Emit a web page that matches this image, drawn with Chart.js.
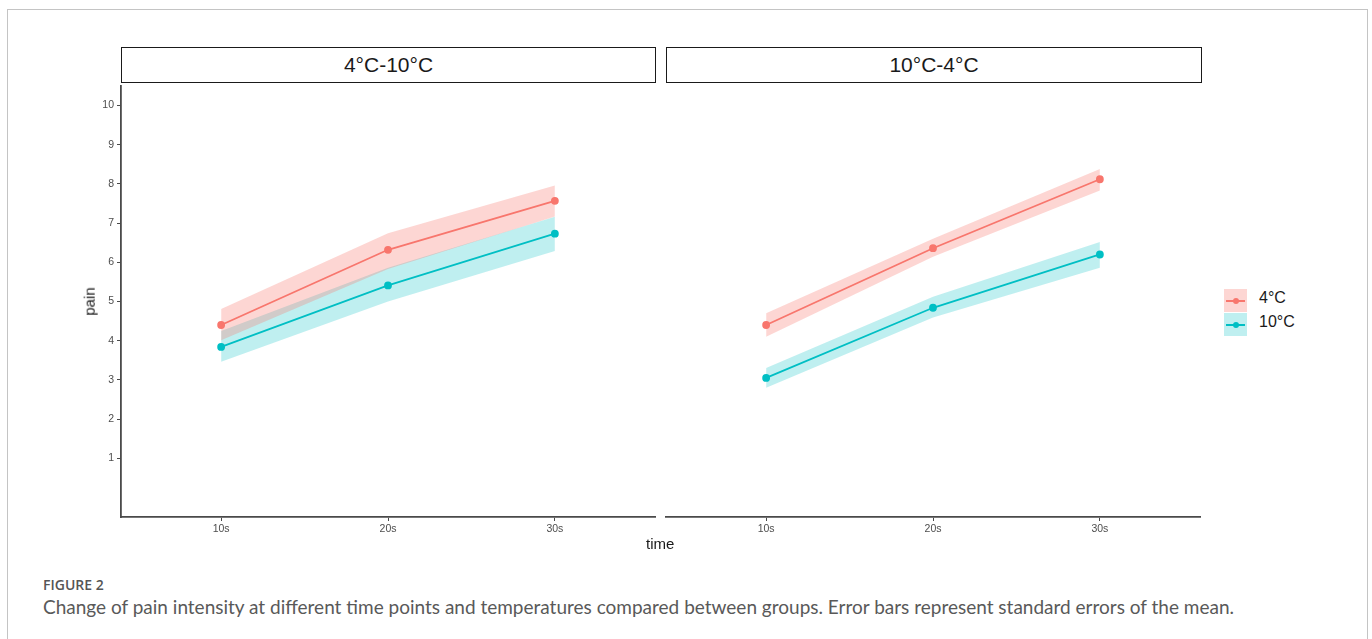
<!DOCTYPE html>
<html>
<head>
<meta charset="utf-8">
<script src="https://cdn.jsdelivr.net/npm/chart.js@4.4.1/dist/chart.umd.min.js"></script>
<style>
  body { margin: 0; background: #fff; width: 1372px; height: 639px; overflow: hidden; position: relative; font-family: "Liberation Sans", Arial, sans-serif; }
  .frame { position: absolute; left: 7px; top: 9px; width: 1361px; height: 700px; border: 1px solid #c4c4c4; box-sizing: border-box; }
  .strip { position: absolute; top: 47px; height: 36px; border: 1.6px solid #1a1a1a; box-sizing: border-box; text-align: center; line-height: 33px; font-size: 21px; color: #1a1a1a; }
  canvas { position: absolute; }
  .axt { position: absolute; font-size: 15px; color: #1a1a1a; }
  .leg { position: absolute; left: 1224px; width: 23px; height: 23px; }
  .leg .ln { position: absolute; left: 2px; right: 2px; top: 10.5px; height: 2px; }
  .leg .pt { position: absolute; left: 8.5px; top: 8.5px; width: 6px; height: 6px; border-radius: 50%; }
  .legtxt { position: absolute; left: 1259px; font-size: 16px; color: #1a1a1a; }
  .fig { position: absolute; left: 43px; top: 575px; font-family: "Open Sans", sans-serif; font-weight: 600; font-size: 14px; color: #555; }
  .cap { position: absolute; left: 43px; top: 595px; font-family: "Lato", sans-serif; font-size: 19px; color: #595959; white-space: nowrap; }
</style>
</head>
<body>
<div class="frame"></div>
<div class="strip" id="strip1" style="left:121px; width:535px;"></div>
<div class="strip" id="strip2" style="left:666px; width:536px;"></div>
<canvas id="chartLeft" width="670" height="484" style="left:0; top:76px;"></canvas>
<canvas id="chartRight" width="560" height="484" style="left:660px; top:76px;"></canvas>
<div class="axt" style="left:75px; top:293px; transform: rotate(-90deg); transform-origin: center;">pain</div>
<div class="axt" style="left:646px; top:535px;">time</div>
<div class="leg" style="top:289px; background: rgba(248,118,109,0.3);"><div class="ln" style="background:#F8766D"></div><div class="pt" style="background:#F8766D"></div></div>
<div class="leg" style="top:313px; background: rgba(0,191,196,0.25);"><div class="ln" style="background:#00BFC4"></div><div class="pt" style="background:#00BFC4"></div></div>
<div class="legtxt" id="leg1" style="top:289px;"></div>
<div class="legtxt" id="leg2" style="top:313px;"></div>
<div class="fig">FIGURE 2</div>
<div class="cap">Change of pain intensity at different time points and temperatures compared between groups. Error bars represent standard errors of the mean.</div>

<script>
// categories
const timeLabels = ['10s', '20s', '30s'];
const timePos = [1, 2, 3];
const yTicks = [1, 2, 3, 4, 5, 6, 7, 8, 9, 10];
const panelNames = ['4°C-10°C', '10°C-4°C'];
const groupNames = ['4°C', '10°C'];

// panel 1: 4°C-10°C
const p1Mean4 = [4.40, 6.32, 7.57];
const p1Hi4 = [4.81, 6.74, 7.96];
const p1Lo4 = [4.01, 5.83, 7.17];
const p1Mean10 = [3.84, 5.41, 6.73];
const p1Hi10 = [4.25, 5.86, 7.16];
const p1Lo10 = [3.46, 5.00, 6.29];

// panel 2: 10°C-4°C
const p2Mean4 = [4.40, 6.36, 8.12];
const p2Hi4 = [4.70, 6.60, 8.38];
const p2Lo4 = [4.10, 6.14, 7.83];
const p2Mean10 = [3.05, 4.84, 6.20];
const p2Hi10 = [3.30, 5.12, 6.52];
const p2Lo10 = [2.80, 4.59, 5.86];

const red = '#F8766D';
const teal = '#00BFC4';
const redFill = 'rgba(248,118,109,0.3)';
const tealFill = 'rgba(0,191,196,0.25)';
const axisCol = '#4a4a4a';
const tickCol = '#4d4d4d';

document.getElementById('strip1').textContent = panelNames[0];
document.getElementById('strip2').textContent = panelNames[1];
document.getElementById('leg1').textContent = groupNames[0];
document.getElementById('leg2').textContent = groupNames[1];

function pts(vals) {
  return vals.map((v, i) => ({ x: timePos[i], y: v }));
}

function lineSet(label, vals, col) {
  return { label: label, data: pts(vals), borderColor: col, backgroundColor: col,
    borderWidth: 1.8, pointRadius: 3, pointHoverRadius: 3, fill: false, tension: 0, order: 0 };
}

function bandSet(vals, fill, col) {
  return { data: pts(vals), borderColor: 'transparent', borderWidth: 0, pointRadius: 0,
    backgroundColor: col, fill: fill, tension: 0, order: 1 };
}

function makeChart(id, m4, hi4, lo4, m10, hi10, lo10, showY, pad) {
  const ctx = document.getElementById(id).getContext('2d');
  return new Chart(ctx, {
    type: 'line',
    data: {
      datasets: [
        lineSet(groupNames[0], m4, red),
        lineSet(groupNames[1], m10, teal),
        bandSet(hi4, '+1', redFill),
        bandSet(lo4, false, redFill),
        bandSet(hi10, '+1', tealFill),
        bandSet(lo10, false, tealFill)
      ]
    },
    options: {
      responsive: false,
      animation: false,
      devicePixelRatio: 1,
      layout: { padding: pad },
      plugins: { legend: { display: false }, tooltip: { enabled: false } },
      scales: {
        x: {
          type: 'linear', min: 0.4, max: 3.6,
          afterBuildTicks: (s) => { s.ticks = timePos.map(v => ({ value: v })); },
          afterFit: (s) => { s.height = 25; },
          ticks: { callback: (v) => timeLabels[timePos.indexOf(v)], color: tickCol,
            font: { family: 'Liberation Sans', size: 10.5 }, padding: 2, maxRotation: 0 },
          grid: { drawOnChartArea: false, drawTicks: true, tickLength: 4, color: axisCol, lineWidth: 1 },
          border: { color: axisCol, width: 1.8 }
        },
        y: {
          type: 'linear', min: -0.5, max: 10.5, display: showY,
          afterBuildTicks: (s) => { s.ticks = yTicks.map(v => ({ value: v })); },
          afterFit: (s) => { s.width = showY ? 121 : 0; },
          ticks: { color: tickCol, font: { family: 'Liberation Sans', size: 10.5 }, padding: 3 },
          grid: { drawOnChartArea: false, drawTicks: true, tickLength: 4, color: axisCol, lineWidth: 1 },
          border: { color: axisCol, width: 1.8 }
        }
      }
    }
  });
}

makeChart('chartLeft', p1Mean4, p1Hi4, p1Lo4, p1Mean10, p1Hi10, p1Lo10, true,
  { left: 0, top: 10, right: 15, bottom: 18 });
makeChart('chartRight', p2Mean4, p2Hi4, p2Lo4, p2Mean10, p2Hi10, p2Lo10, false,
  { left: 6, top: 10, right: 20, bottom: 18 });
</script>
</body>
</html>
